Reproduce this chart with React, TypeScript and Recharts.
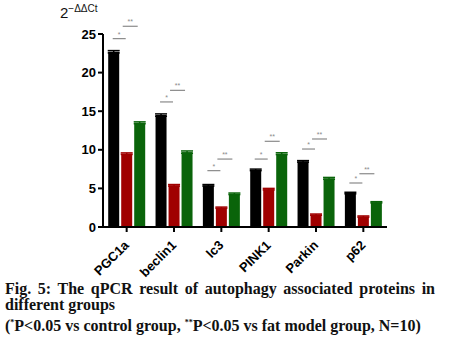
import * as React from "react";
import { BarChart, Bar, XAxis, YAxis, ErrorBar, LabelList } from "recharts";

const genes = ["PGC1a", "beclin1", "lc3", "PINK1", "Parkin", "p62"];
const control = [22.7, 14.5, 5.4, 7.4, 8.5, 4.4];
const fatModel = [9.5, 5.4, 2.5, 4.9, 1.6, 1.35];
const treated = [13.5, 9.7, 4.3, 9.5, 6.3, 3.2];
const controlErr = [0.15, 0.15, 0.1, 0.1, 0.1, 0.1];
const fatErr = [0.1, 0.1, 0.08, 0.1, 0.08, 0.08];
const treatedErr = [0.12, 0.15, 0.1, 0.12, 0.12, 0.08];
// heights of the significance brackets (y units)
const starLevel = [24.4, 16.2, 7.3, 8.8, 10.1, 5.7];
const doubleLevel = [26.0, 17.7, 8.8, 11.1, 11.4, 6.9];
const yTicks = [0, 5, 10, 15, 20, 25];

const data = genes.map((g, i) => ({
  gene: g,
  control: control[i],
  fat: fatModel[i],
  treated: treated[i],
  controlErr: controlErr[i],
  fatErr: fatErr[i],
  treatedErr: treatedErr[i],
}));

const RED = "#a00000";
const GREEN = "#0a640a";
const GRAY = "#8a8a8a";

function SigMarks(props: any) {
  const x = Number(props.x);
  const y = Number(props.y);
  const w = Number(props.width);
  const h = Number(props.height);
  const v = Number(props.value);
  const i = props.index;
  if (!v) return null;
  const bottom = y + h;
  const ppu = h / v;
  const gap = 2;
  const blackC = x - gap - w / 2;
  const redC = x + w / 2;
  const greenC = x + w + gap + w / 2;
  const sy = bottom - starLevel[i] * ppu;
  const dy = bottom - doubleLevel[i] * ppu;
  return (
    <g>
      <line x1={blackC - 1} x2={redC - 1} y1={sy} y2={sy} stroke={GRAY} strokeWidth={1.2} />
      <text x={(blackC + redC) / 2 - 1} y={sy - 2} fontSize={7} fill={GRAY} textAnchor="middle" fontFamily="Arial">
        *
      </text>
      <line x1={redC - 4} x2={greenC - 2} y1={dy} y2={dy} stroke={GRAY} strokeWidth={1.2} />
      <text x={(redC + greenC) / 2 - 3} y={dy - 2} fontSize={7} fill={GRAY} textAnchor="middle" fontFamily="Arial">
        **
      </text>
    </g>
  );
}

function GeneTick(props: any) {
  const { x, y, payload } = props;
  return (
    <text
      x={x + 3}
      y={y + 12}
      transform={`rotate(-45 ${x + 3} ${y + 12})`}
      textAnchor="end"
      fontSize={13}
      fontWeight="bold"
      fontFamily="Liberation Sans, Arial, sans-serif"
      fill="#000"
    >
      {payload.value}
    </text>
  );
}

export default function App() {
  return (
    <div style={{ position: "absolute", left: 0, top: 0, width: 453, height: 343, background: "#fff" }}>
      <div
        style={{
          position: "absolute",
          left: 60,
          top: 3,
          fontFamily: "Liberation Sans, Arial, sans-serif",
          fontSize: 15,
          color: "#111",
          whiteSpace: "nowrap",
        }}
      >
        2<span style={{ fontSize: 10, verticalAlign: "6px" }}>−ΔΔCt</span>
      </div>
      <BarChart
        width={453}
        height={280}
        data={data}
        margin={{ top: 34, right: 66, bottom: 3, left: 63 }}
        barCategoryGap="11%"
        barGap={2}
      >
        <XAxis
          dataKey="gene"
          tick={<GeneTick />}
          interval={0}
          height={50}
          axisLine={{ stroke: "#000", strokeWidth: 2 }}
          tickLine={{ stroke: "#000", strokeWidth: 2 }}
          tickSize={5}
        />
        <YAxis
          domain={[0, 25]}
          ticks={yTicks}
          width={40}
          axisLine={{ stroke: "#000", strokeWidth: 2 }}
          tickLine={{ stroke: "#000", strokeWidth: 2 }}
          tickSize={5}
          tick={{ fill: "#000", fontSize: 13, fontWeight: "bold", fontFamily: "Liberation Sans, Arial, sans-serif" }}
        />
        <Bar dataKey="control" fill="#000" isAnimationActive={false}>
          <ErrorBar dataKey="controlErr" width={6} stroke="#000" strokeWidth={1.5} direction="y" />
        </Bar>
        <Bar dataKey="fat" fill={RED} isAnimationActive={false}>
          <ErrorBar dataKey="fatErr" width={6} stroke={RED} strokeWidth={1.5} direction="y" />
          <LabelList dataKey="fat" content={<SigMarks />} />
        </Bar>
        <Bar dataKey="treated" fill={GREEN} isAnimationActive={false}>
          <ErrorBar dataKey="treatedErr" width={6} stroke={GREEN} strokeWidth={1.5} direction="y" />
        </Bar>
      </BarChart>
      <div
        style={{
          position: "absolute",
          left: 5,
          top: 281,
          width: 430,
          fontFamily: "Liberation Serif, Times New Roman, serif",
          fontWeight: "bold",
          fontSize: 16,
          lineHeight: "16px",
          color: "#111",
        }}
      >
        <div style={{ textAlign: "justify", textAlignLast: "justify" }}>
          Fig. 5: The qPCR result of autophagy associated proteins in
        </div>
        <div>different groups</div>
        <div style={{ marginTop: 2 }}>
          (<sup style={{ fontSize: 8 }}>*</sup>P&lt;0.05 vs control group, <sup style={{ fontSize: 8 }}>**</sup>P&lt;0.05 vs fat model group, N=10)
        </div>
      </div>
    </div>
  );
}
